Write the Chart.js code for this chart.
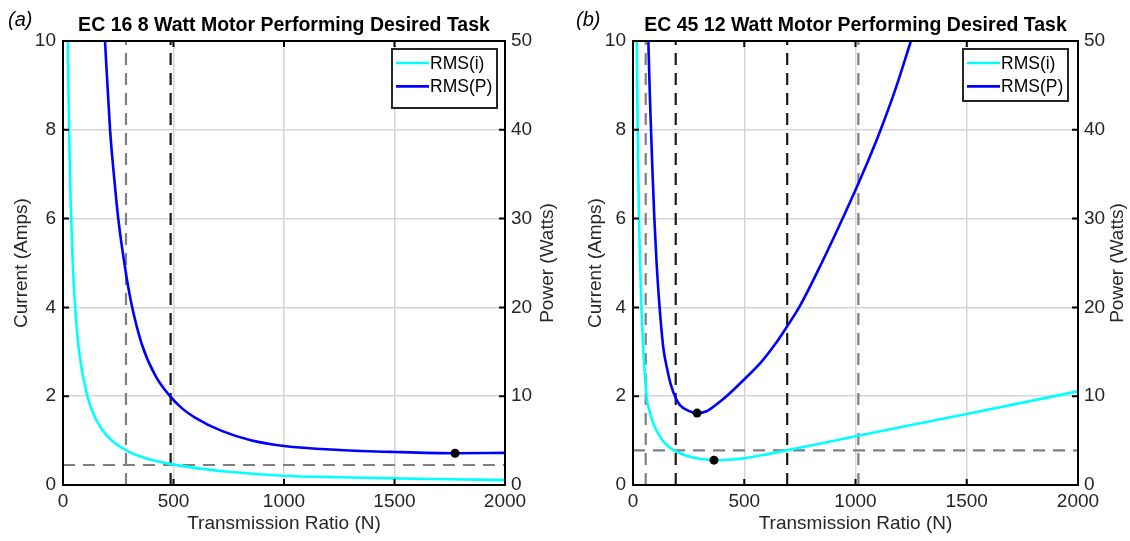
<!DOCTYPE html>
<html>
<head>
<meta charset="utf-8">
<title>Transmission ratio sweep</title>
<script src="https://cdn.jsdelivr.net/npm/chart.js@4.4.1/dist/chart.umd.min.js"></script>
<style>
    body { margin: 0; background: #fff; }
    #wrap { position: relative; width: 1130px; height: 541px; }
    #wrap canvas { position: absolute; top: 0; }
    #panelA { left: 0; }
    #panelB { left: 565px; }
</style>
</head>
<body>
<div id="wrap">
    <canvas id="panelA" width="565" height="541"></canvas>
    <canvas id="panelB" width="565" height="541"></canvas>
</div>
<script>
// ============ DATA ============
const ratioTicks = [0, 500, 1000, 1500, 2000];
const currentTicks = [0, 2, 4, 6, 8, 10];
const powerTicks = [0, 10, 20, 30, 40, 50];

// (a) EC 16, 8 W
const titleA = 'EC 16 8 Watt Motor Performing Desired Task';
const ratioA_i = [22, 25, 28, 32, 37, 44, 55, 73, 110, 150, 200, 250, 290, 350, 420, 490, 600, 750, 1000, 1250, 1500, 1750, 2000];
const currentA = [10, 8.9, 7.9, 6.9, 6, 5, 4, 3, 2, 1.47, 1.1, 0.89, 0.77, 0.64, 0.54, 0.47, 0.38, 0.30, 0.21, 0.175, 0.15, 0.13, 0.11];
const ratioA_p = [190, 213, 230, 250, 280, 308, 356, 416, 484, 540, 597, 718, 850, 1000, 1250, 1500, 1774, 2000];
const powerA = [50, 40, 35, 30, 24.6, 20.6, 15.9, 12.4, 10, 8.6, 7.6, 6.1, 5.05, 4.4, 3.95, 3.72, 3.58, 3.62];
const minPowerA = { ratio: [1774], power: [3.58] };
const grayRatioA = [285];
const blackRatioA = [487];
const grayCurrentA = [0.45];

// (b) EC 45, 12 W
const titleB = 'EC 45 12 Watt Motor Performing Desired Task';
const ratioB_i = [17, 19, 21, 24, 27, 32, 38, 47, 61, 75, 91, 121, 151, 189, 241, 301, 364, 430, 496, 590, 690, 850, 1000, 1500, 2000];
const currentB = [10, 9, 8, 7, 6, 5, 4, 3, 2, 1.65, 1.39, 1.09, 0.9, 0.77, 0.66, 0.59, 0.56, 0.57, 0.6, 0.68, 0.78, 0.94, 1.1, 1.6, 2.11];
const ratioB_p = [69, 75, 81, 88, 96, 106, 118, 136, 155, 170, 192, 211, 250, 288, 330, 376, 420, 496, 578, 640, 691, 751, 848, 953, 1005, 1060, 1110, 1180, 1249];
const powerB = [50, 44.5, 40, 35, 30, 25, 20.5, 15.5, 12.9, 11.3, 9.8, 9.0, 8.35, 8.1, 8.3, 9.1, 10.0, 11.8, 13.9, 15.9, 17.8, 20.2, 25, 30.6, 33.5, 36.7, 39.8, 44.6, 50];
const minPowerB = { ratio: [288], power: [8.1] };
const minCurrentB = { ratio: [364], current: [0.56] };
const grayRatioB = [57, 1013];
const blackRatioB = [192, 693];
const grayCurrentB = [0.78];

// ============ STYLE ============
const FONT = '"Liberation Sans", Arial, sans-serif';
const TEXT = '#262626';
const CYAN = '#00FFFF';
const BLUE = '#0000FF';
const DASH_GRAY = '#7f7f7f';
const DASH_BLACK = '#1a1a1a';
const GRID = '#d6d6d6';

Chart.defaults.font.family = FONT;
Chart.defaults.color = TEXT;

function pts(xs, ys) {
    return xs.map((x, i) => ({ x: x, y: ys[i] }));
}

function curve(label, xs, ys, color, axis) {
    return {
        label: label, inLegend: true, data: pts(xs, ys), yAxisID: axis,
        borderColor: color, backgroundColor: color, borderWidth: 2.6,
        pointRadius: 0, cubicInterpolationMode: 'monotone', fill: false
    };
}

function dots(xs, ys, axis) {
    return {
        data: pts(xs, ys), yAxisID: axis, showLine: false,
        pointRadius: 4.5, pointBackgroundColor: '#000', pointBorderColor: '#000', pointBorderWidth: 0
    };
}

function vLine(x, color) {
    return {
        data: [{ x: x, y: currentTicks[0] }, { x: x, y: currentTicks[currentTicks.length - 1] }],
        yAxisID: 'y', borderColor: color, borderWidth: 2.2, borderDash: [12, 8], pointRadius: 0
    };
}

function hLine(y, color) {
    return {
        data: [{ x: ratioTicks[0], y: y }, { x: ratioTicks[ratioTicks.length - 1], y: y }],
        yAxisID: 'y', borderColor: color, borderWidth: 2.2, borderDash: [12, 8], pointRadius: 0
    };
}

// ============ PLUGINS ============
// box + inward ticks, like the original axes
const framePlugin = {
    id: 'frame',
    afterDatasetsDraw(chart) {
        const { ctx, chartArea: a, scales } = chart;
        const len = 6;
        ctx.save();
        ctx.strokeStyle = '#000';
        ctx.lineWidth = 2;
        ctx.beginPath();
        scales.x.ticks.forEach(t => {
            if (t.value <= scales.x.min || t.value >= scales.x.max) return;
            const px = scales.x.getPixelForValue(t.value);
            ctx.moveTo(px, a.bottom); ctx.lineTo(px, a.bottom - len);
            ctx.moveTo(px, a.top); ctx.lineTo(px, a.top + len);
        });
        scales.y.ticks.forEach(t => {
            if (t.value <= scales.y.min || t.value >= scales.y.max) return;
            const py = scales.y.getPixelForValue(t.value);
            ctx.moveTo(a.left, py); ctx.lineTo(a.left + len, py);
        });
        scales.y1.ticks.forEach(t => {
            if (t.value <= scales.y1.min || t.value >= scales.y1.max) return;
            const py = scales.y1.getPixelForValue(t.value);
            ctx.moveTo(a.right, py); ctx.lineTo(a.right - len, py);
        });
        ctx.stroke();
        ctx.strokeRect(a.left, a.top, a.right - a.left, a.bottom - a.top);
        ctx.restore();
    }
};

// boxed legend in the upper right corner
const boxLegend = {
    id: 'boxLegend',
    afterDatasetsDraw(chart, args, opts) {
        const { ctx, chartArea: a } = chart;
        const items = chart.data.datasets.filter(d => d.inLegend);
        const x = a.right - opts.insetX - opts.width;
        const y = a.top + opts.insetY;
        ctx.save();
        ctx.fillStyle = '#fff';
        ctx.fillRect(x, y, opts.width, opts.height);
        ctx.strokeStyle = TEXT;
        ctx.lineWidth = 2;
        ctx.strokeRect(x, y, opts.width, opts.height);
        ctx.font = '17.5px ' + FONT;
        ctx.textBaseline = 'middle';
        ctx.textAlign = 'left';
        items.forEach((d, i) => {
            const ly = y + 14 + i * 23.4;
            ctx.strokeStyle = d.borderColor;
            ctx.lineWidth = 2.6;
            ctx.beginPath();
            ctx.moveTo(x + 4, ly);
            ctx.lineTo(x + 37, ly);
            ctx.stroke();
            ctx.fillStyle = '#000';
            ctx.fillText(d.label, x + 38, ly + 1);
        });
        ctx.restore();
    }
};

// panel letter and the right axis title (reads bottom-to-top)
const panelText = {
    id: 'panelText',
    afterDraw(chart, args, opts) {
        const { ctx, chartArea: a } = chart;
        ctx.save();
        ctx.fillStyle = '#000';
        ctx.font = 'italic 20px ' + FONT;
        ctx.textBaseline = 'middle';
        ctx.textAlign = 'left';
        ctx.fillText(opts.letter, opts.letterX, opts.letterY);
        ctx.fillStyle = TEXT;
        ctx.font = '19px ' + FONT;
        ctx.textAlign = 'center';
        ctx.translate(opts.rightTitleX, (a.top + a.bottom) / 2);
        ctx.rotate(-Math.PI / 2);
        ctx.fillText(opts.rightTitle, 0, 0);
        ctx.restore();
    }
};

// ============ CHARTS ============
function fixedTicks(values) {
    return scale => { scale.ticks = values.map(v => ({ value: v })); };
}

const plainNumber = v => String(v);

function makePanel(canvasId, p) {
    const datasets = [
        dots(p.minP.ratio, p.minP.power, 'y1'),
        curve('RMS(i)', p.ratioI, p.current, CYAN, 'y'),
        curve('RMS(P)', p.ratioP, p.power, BLUE, 'y1')
    ];
    if (p.minI) datasets.splice(1, 0, dots(p.minI.ratio, p.minI.current, 'y'));
    p.black.forEach(x => datasets.push(vLine(x, DASH_BLACK)));
    p.grayV.forEach(x => datasets.push(vLine(x, DASH_GRAY)));
    p.grayH.forEach(y => datasets.push(hLine(y, DASH_GRAY)));

    return new Chart(document.getElementById(canvasId), {
        type: 'line',
        data: { datasets: datasets },
        options: {
            responsive: false,
            devicePixelRatio: 1,
            animation: false,
            events: [],
            layout: { padding: 0 },
            plugins: {
                legend: { display: false },
                tooltip: { enabled: false },
                title: {
                    display: true, text: p.title, fullSize: false, color: '#000',
                    font: { size: 19.5, weight: 'bold', lineHeight: '23px' },
                    padding: { top: 14, bottom: 4 }
                },
                boxLegend: p.legend,
                panelText: { letter: p.letter, letterX: p.letterX, letterY: 20, rightTitle: 'Power (Watts)', rightTitleX: p.rightTitleX }
            },
            scales: {
                x: {
                    type: 'linear', min: 0, max: 2000,
                    afterBuildTicks: fixedTicks(ratioTicks),
                    afterFit: s => { s.height = 56; },
                    grid: { color: GRID, lineWidth: 1.5, drawTicks: false },
                    border: { display: false },
                    ticks: { font: { size: 19 }, padding: 5, maxRotation: 0, color: TEXT, callback: plainNumber },
                    title: { display: true, text: 'Transmission Ratio (N)', font: { size: 19 }, padding: { top: 0, bottom: 6 }, color: TEXT }
                },
                y: {
                    position: 'left', min: 0, max: 10,
                    afterBuildTicks: fixedTicks(currentTicks),
                    afterFit: s => { s.width = p.leftW; },
                    grid: { color: GRID, lineWidth: 1.5, drawTicks: false },
                    border: { display: false },
                    ticks: { font: { size: 19 }, padding: 7, color: TEXT, callback: plainNumber },
                    title: { display: true, text: 'Current (Amps)', font: { size: 19 }, padding: { top: p.leftTitlePad, bottom: 0 }, color: TEXT }
                },
                y1: {
                    position: 'right', min: 0, max: 50,
                    afterBuildTicks: fixedTicks(powerTicks),
                    afterFit: s => { s.width = p.rightW; },
                    grid: { display: false, drawTicks: false },
                    border: { display: false },
                    ticks: { font: { size: 19 }, padding: 6, color: TEXT, callback: plainNumber }
                }
            }
        },
        plugins: [framePlugin, boxLegend, panelText]
    });
}

makePanel('panelA', {
    title: titleA, letter: '(a)', letterX: 8,
    ratioI: ratioA_i, current: currentA, ratioP: ratioA_p, power: powerA,
    minP: minPowerA, minI: null,
    black: blackRatioA, grayV: grayRatioA, grayH: grayCurrentA,
    leftW: 63, rightW: 60, leftTitlePad: 10, rightTitleX: 548,
    legend: { insetX: 8, insetY: 8, width: 105, height: 59 }
});

makePanel('panelB', {
    title: titleB, letter: '(b)', letterX: 11,
    ratioI: ratioB_i, current: currentB, ratioP: ratioB_p, power: powerB,
    minP: minPowerB, minI: minCurrentB,
    black: blackRatioB, grayV: grayRatioB, grayH: grayCurrentB,
    leftW: 68, rightW: 52, leftTitlePad: 19, rightTitleX: 553,
    legend: { insetX: 10, insetY: 8, width: 105, height: 52 }
});
</script>
</body>
</html>
